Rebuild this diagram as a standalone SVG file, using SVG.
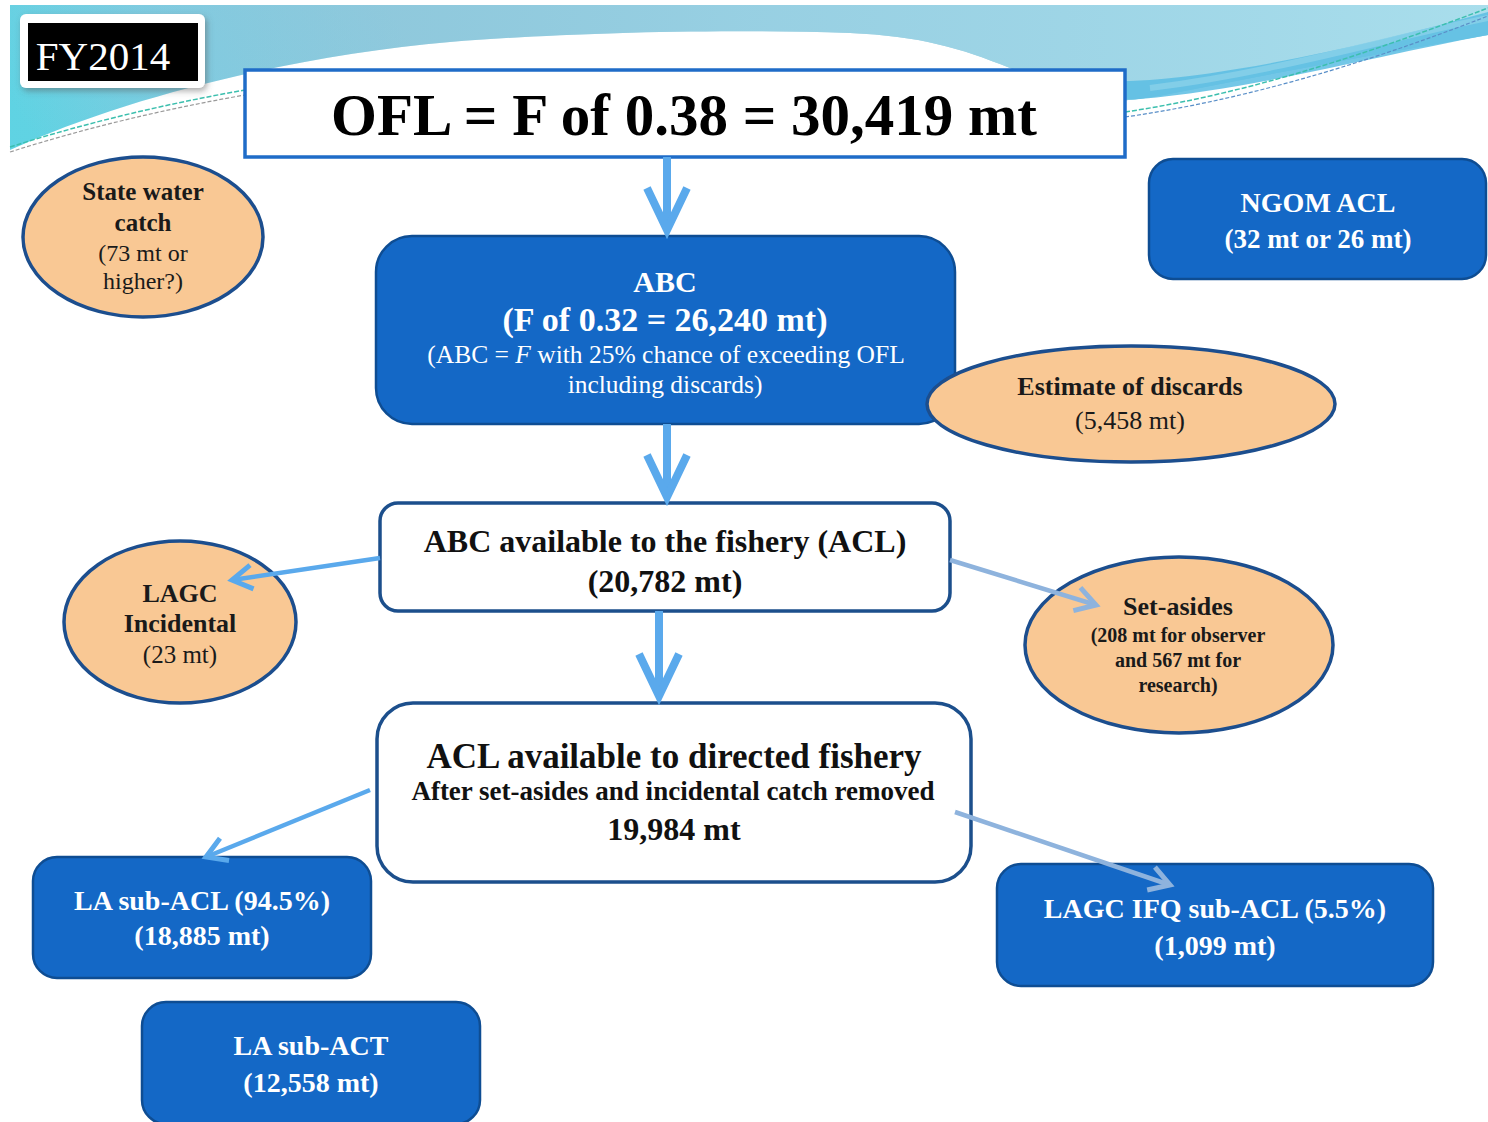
<svg xmlns="http://www.w3.org/2000/svg" width="1488" height="1122" viewBox="0 0 1488 1122">
<defs>
<style>
.t{font-family:"Liberation Serif","Times New Roman",serif;text-anchor:middle}
.b{font-weight:bold}
.w{fill:#ffffff}
.d{fill:#1a1a1a}
.blue{fill:#1468c6;stroke:#0e4d93;stroke-width:2.5}
.wb{fill:#ffffff;stroke:#1c4f8c;stroke-width:3.5}
.ell{fill:#f9c894;stroke:#1c4e8e;stroke-width:3.5}
.big{fill:none;stroke:#5aa9ec;stroke-width:8}
.sm{fill:none;stroke:#5aa9ec;stroke-width:4.5}
.gr{fill:none;stroke:#8eb3dd;stroke-width:4.5}
</style>
<linearGradient id="g1" gradientUnits="userSpaceOnUse" x1="40" y1="150" x2="360" y2="-40">
<stop offset="0" stop-color="#5fd3e3"/>
<stop offset="0.45" stop-color="#7ecbe0"/>
<stop offset="1" stop-color="#8cc6da"/>
</linearGradient>
<linearGradient id="g2" gradientUnits="userSpaceOnUse" x1="0" y1="0" x2="1488" y2="0">
<stop offset="0" stop-color="#8cc6da" stop-opacity="0"/>
<stop offset="0.5" stop-color="#9fd6e8" stop-opacity="0.6"/>
<stop offset="1" stop-color="#a9deec"/>
</linearGradient>
<marker id="mb" markerUnits="userSpaceOnUse" markerWidth="60" markerHeight="60" refX="0" refY="0" orient="auto" overflow="visible">
<path d="M-42,-20 L0,0 L-42,20" fill="none" stroke="#5aa9ec" stroke-width="8" stroke-linejoin="miter"/>
</marker>
<marker id="ms" markerUnits="userSpaceOnUse" markerWidth="40" markerHeight="40" refX="0" refY="0" orient="auto" overflow="visible">
<path d="M-20,-12 L0,0 L-20,12" fill="none" stroke="#5aa9ec" stroke-width="5"/>
</marker>
<marker id="mg" markerUnits="userSpaceOnUse" markerWidth="40" markerHeight="40" refX="0" refY="0" orient="auto" overflow="visible">
<path d="M-20,-12 L0,0 L-20,12" fill="none" stroke="#8eb3dd" stroke-width="5"/>
</marker>
<filter id="sh" x="-20%" y="-20%" width="140%" height="150%">
<feDropShadow dx="2" dy="3" stdDeviation="3" flood-color="#555" flood-opacity="0.5"/>
</filter>
</defs>

<rect x="0" y="0" width="1488" height="1122" fill="#ffffff"/>

<g id="background">
<path d="M10,5 H1488 V35 C1400,50 1300,68 1200,88 C1160,96 1130,102 1110,100 C1070,95 1040,80 1010,68 C960,48 920,36 850,33 C700,28 550,34 450,42 C300,55 130,95 10,150 Z" fill="url(#g1)"/>
<path d="M10,5 H1488 V35 C1400,50 1300,68 1200,88 C1160,96 1130,102 1110,100 C1070,95 1040,80 1010,68 C960,48 920,36 850,33 C700,28 550,34 450,42 C300,55 130,95 10,150 Z" fill="url(#g2)"/>
<path d="M1010,68 C1070,95 1110,102 1140,99 C1260,88 1380,55 1488,35 L1488,12 C1380,42 1250,72 1150,80 C1090,84 1050,79 1010,68 Z" fill="#5bbde3" opacity="0.85"/>
<path d="M1150,88 C1280,72 1400,35 1488,18" fill="none" stroke="#8fd3ea" stroke-width="6" opacity="0.7"/>
<path d="M10,147 Q120,112 245,90" fill="none" stroke="#3cbfae" stroke-width="1.5" stroke-dasharray="5,2"/>
<path d="M10,152 Q120,117 245,95" fill="none" stroke="#9a9a9a" stroke-width="1.2" stroke-dasharray="4,2"/>
<path d="M1125,112 C1260,92 1390,45 1488,8" fill="none" stroke="#3cbfae" stroke-width="1.5" stroke-dasharray="5,2"/>
<path d="M1125,117 C1265,97 1395,52 1488,16" fill="none" stroke="#5a8fc8" stroke-width="1.2" stroke-dasharray="4,2"/>
</g>

<g id="fy2014">
<rect x="20" y="14" width="185" height="74" rx="6" fill="#ffffff" filter="url(#sh)"/>
<rect x="28" y="23" width="170" height="58" fill="#000000"/>
<text class="t w" x="103" y="70" font-size="41">FY2014</text>
</g>

<g id="ofl">
<rect x="245" y="70" width="880" height="87" fill="#ffffff" stroke="#1f6cc8" stroke-width="3.5"/>
<text class="t b" x="684" y="135" font-size="59" fill="#000">OFL = F of 0.38 = 30,419 mt</text>
</g>

<g id="state-water">
<ellipse class="ell" cx="143" cy="237" rx="120" ry="80"/>
<text class="t b d" x="143" y="200" font-size="25">State water</text>
<text class="t b d" x="143" y="231" font-size="25">catch</text>
<text class="t d" x="143" y="261" font-size="24">(73 mt or</text>
<text class="t d" x="143" y="289" font-size="24">higher?)</text>
</g>

<g id="ngom">
<rect class="blue" x="1149" y="159" width="337" height="120" rx="24"/>
<text class="t b w" x="1318" y="212" font-size="28">NGOM ACL</text>
<text class="t b w" x="1318" y="248" font-size="27">(32 mt or 26 mt)</text>
</g>

<g id="abc">
<rect class="blue" x="376" y="236" width="579" height="188" rx="36"/>
<text class="t b w" x="665" y="292" font-size="30">ABC</text>
<text class="t b w" x="665" y="331" font-size="34">(F of 0.32 = 26,240 mt)</text>
<text class="t w" x="666" y="363" font-size="25.5">(ABC = <tspan font-style="italic">F</tspan> with 25% chance of exceeding OFL</text>
<text class="t w" x="665" y="393" font-size="25.5">including discards)</text>
</g>

<g id="discards">
<ellipse class="ell" cx="1131" cy="404" rx="204" ry="58"/>
<text class="t b d" x="1130" y="395" font-size="26">Estimate of discards</text>
<text class="t d" x="1130" y="429" font-size="26">(5,458 mt)</text>
</g>

<g id="abc-available">
<rect class="wb" x="380" y="503" width="570" height="108" rx="18"/>
<text class="t b" x="665" y="552" font-size="32" fill="#111">ABC available to the fishery (ACL)</text>
<text class="t b" x="665" y="592" font-size="32" fill="#111">(20,782 mt)</text>
</g>

<g id="lagc-incidental">
<ellipse class="ell" cx="180" cy="622" rx="116" ry="81"/>
<text class="t b d" x="180" y="602" font-size="26">LAGC</text>
<text class="t b d" x="180" y="632" font-size="26">Incidental</text>
<text class="t d" x="180" y="663" font-size="25">(23 mt)</text>
</g>

<g id="set-asides">
<ellipse class="ell" cx="1179" cy="645" rx="154" ry="88"/>
<text class="t b d" x="1178" y="615" font-size="26">Set-asides</text>
<text class="t b d" x="1178" y="642" font-size="20">(208 mt for observer</text>
<text class="t b d" x="1178" y="667" font-size="20">and 567 mt for</text>
<text class="t b d" x="1178" y="692" font-size="20">research)</text>
</g>

<g id="acl-directed">
<rect class="wb" x="377" y="703" width="594" height="179" rx="36"/>
<text class="t b" x="674" y="768" font-size="35" fill="#111">ACL available to directed fishery</text>
<text class="t b" x="673" y="800" font-size="27" fill="#111">After set-asides and incidental catch removed</text>
<text class="t b" x="674" y="840" font-size="32" fill="#111">19,984 mt</text>
</g>

<g id="la-sub-acl">
<rect class="blue" x="33" y="857" width="338" height="121" rx="24"/>
<text class="t b w" x="202" y="910" font-size="28">LA sub-ACL (94.5%)</text>
<text class="t b w" x="202" y="945" font-size="28">(18,885 mt)</text>
</g>

<g id="la-sub-act">
<rect class="blue" x="142" y="1002" width="338" height="122" rx="24"/>
<text class="t b w" x="311" y="1055" font-size="28">LA sub-ACT</text>
<text class="t b w" x="311" y="1092" font-size="28">(12,558 mt)</text>
</g>

<g id="lagc-ifq">
<rect class="blue" x="997" y="864" width="436" height="122" rx="24"/>
<text class="t b w" x="1215" y="918" font-size="28">LAGC IFQ sub-ACL (5.5%)</text>
<text class="t b w" x="1215" y="955" font-size="28">(1,099 mt)</text>
</g>

<g id="connectors">
<line class="big" x1="667" y1="157" x2="667" y2="230" marker-end="url(#mb)"/>
<line class="big" x1="667" y1="424" x2="667" y2="497" marker-end="url(#mb)"/>
<line class="big" x1="659" y1="611" x2="659" y2="696" marker-end="url(#mb)"/>
<line class="sm" x1="380" y1="558" x2="232" y2="580" marker-end="url(#ms)"/>
<line class="gr" x1="950" y1="560" x2="1096" y2="605" marker-end="url(#mg)"/>
<line class="sm" x1="370" y1="790" x2="206" y2="857" marker-end="url(#ms)"/>
<line class="gr" x1="955" y1="812" x2="1170" y2="885" marker-end="url(#mg)"/>
</g>
</svg>
